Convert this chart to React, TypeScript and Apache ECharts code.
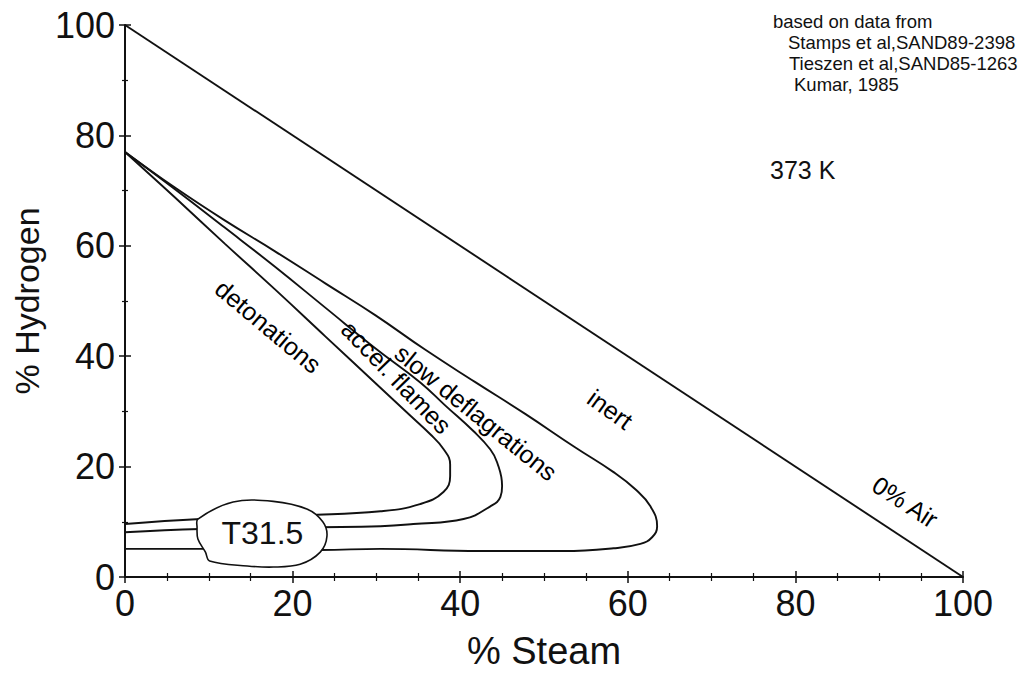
import React, { useEffect, useRef } from "react";
import * as echarts from "echarts";

const FONT = "Liberation Sans";
const INK = "#111";

// Axis ticks
const axisMin = 0;
const axisMax = 100;
const axisStep = 20;

// 0 % air boundary (steam + hydrogen = 100)
const airLine = [
  [0, 100],
  [100, 0],
];

// detonation limit
const detonations = [
  [0, 77.0], [6.0, 68.7], [11.9, 60.4], [17.9, 52.1], [23.9, 43.6], [29.9, 35.1],
  [34.0, 29.3], [36.4, 25.9], [38.0, 23.2], [38.8, 20.4], [38.8, 18.3], [38.0, 15.4],
  [35.2, 13.2], [30.5, 11.9], [21.5, 11.2], [9.0, 10.5], [0, 9.6],
];

// accelerated flames limit
const accelFlames = [
  [0, 77.0], [6.0, 70.2], [11.9, 63.3], [17.9, 56.2], [23.9, 48.8], [29.9, 41.4],
  [35.2, 35.3], [38.2, 31.1], [41.6, 26.4], [43.6, 23.1], [44.4, 20.8], [45.0, 16.5],
  [44.8, 14.5], [43.6, 12.8], [40.4, 10.5], [34.4, 9.6], [30.5, 9.2], [23.3, 9.0],
  [9.0, 8.7], [0, 8.1],
];

// slow deflagration (flammability) limit
const slowDeflagrations = [
  [0, 77.0], [6.0, 70.5], [11.9, 64.6], [17.9, 59.0], [23.9, 53.2], [29.9, 47.4],
  [35.8, 41.2], [41.8, 35.3], [47.8, 29.5], [53.7, 23.5], [58.3, 19.0], [60.9, 15.9],
  [62.7, 12.8], [63.5, 9.2], [62.9, 7.2], [61.5, 6.0], [58.3, 5.2], [52.3, 4.7],
  [42.4, 4.7], [30.5, 5.1], [23.3, 4.9], [9.0, 5.1], [0, 5.1],
];

// T31.5 test region outline and its label anchor
const blobT315 = [
  [8.7, 10.5], [12.9, 13.6], [17.7, 13.7], [21.7, 12.3], [23.6, 10.0], [24.1, 7.4],
  [23.3, 4.5], [20.9, 2.3], [17.7, 1.8], [14.6, 2.0], [10.1, 2.9], [9.6, 4.5],
  [8.7, 6.9], [8.6, 9.0],
];
const blobLabel = "T31.5";
const blobLabelAt = [16.4, 7.9];

// region labels
const regionNames = ["detonations", "accel. flames", "slow deflagrations", "inert", "0% Air"];
const regionAnchors = [
  [17.1, 45.4],
  [32.4, 36.2],
  [41.9, 29.8],
  [57.9, 30.4],
  [93.1, 13.6],
];
const regionAngles = [-40, -46, -39, -36, -33];

const sourceNotes = [
  "based on data from",
  "Stamps et al,SAND89-2398",
  "Tieszen et al,SAND85-1263",
  "Kumar, 1985",
];
const temperatureNote = "373 K";

export default function App() {
  const ref = useRef<HTMLDivElement>(null);

  useEffect(() => {
    document.body.style.margin = "0";
    if (!ref.current) return;
    const chart = echarts.init(ref.current, null, { renderer: "svg" });

    const lineStyle = { color: INK, width: 1.9 };
    const curve = (name: string, data: number[][]) => ({
      name,
      type: "line",
      data,
      showSymbol: false,
      symbol: "none",
      smooth: 0.45,
      lineStyle,
      z: 3,
    });

    const baseAxis = {
      type: "value",
      min: axisMin,
      max: axisMax,
      interval: axisStep,
      splitLine: { show: false },
    };

    const noteX = [773, 788, 789, 794];
    const noteY = [21, 42, 63, 84];

    chart.setOption({
      animation: false,
      backgroundColor: "#fff",
      grid: { left: 125, right: 58, top: 25, bottom: 97, containLabel: false },
      xAxis: [
        {
          ...baseAxis,
          position: "bottom",
          axisLine: { show: true, onZero: false, lineStyle: { color: INK, width: 2 } },
          axisTick: { show: true, inside: false, length: 6, lineStyle: { color: INK, width: 1.5 } },
          minorTick: { show: true, splitNumber: 4, length: 4, lineStyle: { color: INK, width: 1.2 } },
          axisLabel: { show: true, margin: 8, fontSize: 36, fontFamily: FONT, color: INK },
          name: "% Steam",
          nameLocation: "middle",
          nameGap: 55,
          nameTextStyle: { fontSize: 38, fontFamily: FONT, color: INK },
        },
        {
          ...baseAxis,
          position: "bottom",
          axisLine: { show: false, onZero: false },
          axisTick: { show: true, inside: true, length: 6, lineStyle: { color: INK, width: 1.5 } },
          minorTick: { show: true, splitNumber: 4, length: 4, lineStyle: { color: INK, width: 1.2 } },
          axisLabel: { show: false },
        },
      ],
      yAxis: [
        {
          ...baseAxis,
          position: "left",
          axisLine: { show: true, onZero: false, lineStyle: { color: INK, width: 2 } },
          axisTick: { show: true, inside: false, length: 6, lineStyle: { color: INK, width: 1.5 } },
          minorTick: { show: true, splitNumber: 2, length: 3, lineStyle: { color: INK, width: 1.2 } },
          axisLabel: { show: true, margin: 10, fontSize: 36, fontFamily: FONT, color: INK },
          name: "% Hydrogen",
          nameLocation: "middle",
          nameGap: 80,
          nameRotate: 90,
          nameTextStyle: { fontSize: 34, fontFamily: FONT, color: INK },
        },
        {
          ...baseAxis,
          position: "left",
          axisLine: { show: false, onZero: false },
          axisTick: { show: true, inside: true, length: 6, lineStyle: { color: INK, width: 1.5 } },
          minorTick: { show: true, splitNumber: 2, length: 3, lineStyle: { color: INK, width: 1.2 } },
          axisLabel: { show: false },
        },
      ],
      series: [
        {
          name: "0% Air",
          type: "line",
          data: airLine,
          showSymbol: false,
          symbol: "none",
          lineStyle,
          z: 3,
        },
        curve("detonations", detonations),
        curve("accel. flames", accelFlames),
        curve("slow deflagrations", slowDeflagrations),
        {
          name: "T31.5",
          type: "custom",
          coordinateSystem: "cartesian2d",
          data: [blobLabelAt],
          z: 10,
          renderItem: (_params: any, api: any) => {
            const pts = blobT315.map((p) => api.coord(p));
            const c = api.coord([api.value(0), api.value(1)]);
            return {
              type: "group",
              children: [
                {
                  type: "polygon",
                  shape: { points: pts, smooth: 0.35 },
                  style: { fill: "#fff", stroke: INK, lineWidth: 1.6 },
                },
                {
                  type: "text",
                  x: c[0],
                  y: c[1],
                  style: {
                    text: blobLabel,
                    fontSize: 32,
                    fontFamily: FONT,
                    fill: INK,
                    align: "center",
                    verticalAlign: "middle",
                  },
                },
              ],
            };
          },
        },
        {
          name: "labels",
          type: "scatter",
          symbolSize: 0,
          z: 5,
          data: regionNames.map((n, i) => ({
            name: n,
            value: regionAnchors[i],
            label: { rotate: regionAngles[i] },
          })),
          label: {
            show: true,
            position: "inside",
            formatter: "{b}",
            fontSize: 25,
            fontFamily: FONT,
            color: "#000",
            opacity: 1,
          },
          emphasis: { disabled: true },
        },
      ],
      graphic: [
        ...sourceNotes.map((t, i) => ({
          type: "text",
          x: noteX[i],
          y: noteY[i],
          style: {
            text: t,
            fontSize: 18.5,
            fontFamily: FONT,
            fill: INK,
            verticalAlign: "middle",
          },
        })),
        {
          type: "text",
          x: 770,
          y: 170,
          style: {
            text: temperatureNote,
            fontSize: 25,
            fontFamily: FONT,
            fill: INK,
            verticalAlign: "middle",
          },
        },
      ],
    });

    return () => chart.dispose();
  }, []);

  return (
    <div
      ref={ref}
      style={{ position: "absolute", left: 0, top: 0, width: 1021, height: 675, background: "#fff" }}
    />
  );
}
